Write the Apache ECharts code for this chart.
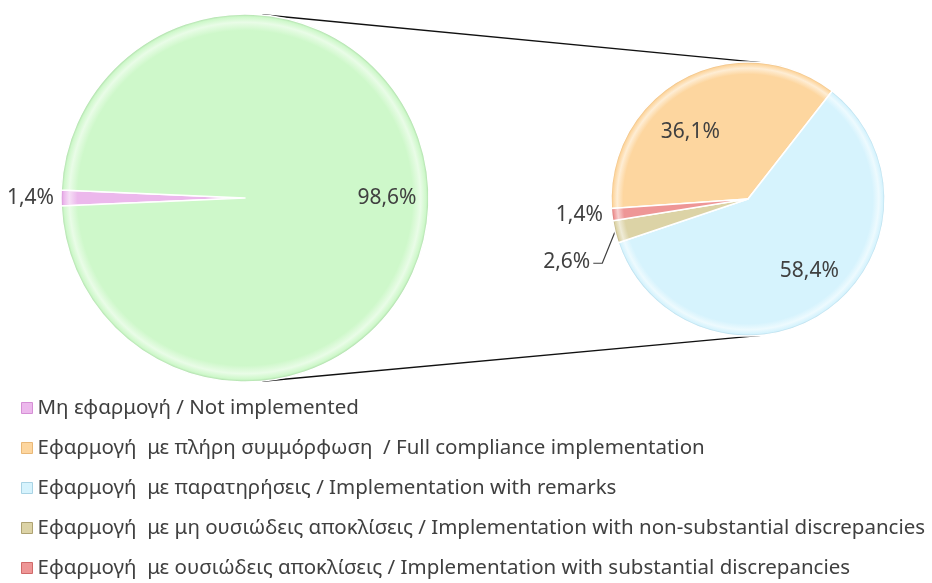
<!DOCTYPE html>
<html>
<head>
<meta charset="utf-8">
<script src="https://cdn.jsdelivr.net/npm/echarts@6/dist/echarts.min.js"></script>
<style>
  html, body { margin: 0; padding: 0; background: #fff; }
  #chart { width: 932px; height: 583px; }
</style>
</head>
<body>
<div id="chart"></div>
<script>
// data
const mainNames = ["Μη εφαρμογή / Not implemented", "Άλλο"];
const mainValues = [1.4, 98.6];
const subNames = [
  "Εφαρμογή  με πλήρη συμμόρφωση  / Full compliance implementation",
  "Εφαρμογή  με παρατηρήσεις / Implementation with remarks",
  "Εφαρμογή  με μη ουσιώδεις αποκλίσεις / Implementation with non-substantial discrepancies",
  "Εφαρμογή  με ουσιώδεις αποκλίσεις / Implementation with substantial discrepancies",
];
const subValues = [36.1, 58.4, 2.6, 1.4];
const legendNames = [mainNames[0], ...subNames];

// style: [fill, rim]
const mainColors = [["#ecb8ec", "#d58fd5"], ["#cef8ca", "#a9d9a5"]];
const subColors = [["#fdd69f", "#e9b878"], ["#d6f3fd", "#a9d3e4"], ["#dcd3a6", "#aea272"], ["#ee9696", "#d06a6a"]];
const FONT = "Noto Sans";
const MAIN = { cx: 245, cy: 198, r: 184 };
const SUB = { cx: 748, cy: 199, r: 137 };
const subStart = 184;

const fmt = (p) => p.value.toFixed(1).replace(".", ",") + "%";
const rad = (a) => (a * Math.PI) / 180;
const pt = (c, a) => [c.cx + c.r * Math.cos(rad(a)), c.cy - c.r * Math.sin(rad(a))];

// bevel-ish look: flat fill, soft light ring just inside the rim, darker rim
const fill = (c, pair) => ({
  type: "radial", x: c.cx, y: c.cy, r: c.r, global: true,
  colorStops: [
    { offset: 0, color: pair[0] },
    { offset: 0.91, color: pair[0] },
    { offset: 0.955, color: echarts.color.lerp(0.55, [pair[0], "#ffffff"]) },
    { offset: 0.985, color: pair[0] },
    { offset: 1, color: pair[1] },
  ],
});

// outer tangent lines between the two pies
const tan = 90 - (Math.asin((MAIN.r - SUB.r) / (SUB.cx - MAIN.cx)) * 180) / Math.PI;
const topA = pt(MAIN, tan), topB = pt(SUB, tan);
const botA = pt(MAIN, -tan), botB = pt(SUB, -tan);

const allColors = [mainColors[0], ...subColors];

const chart = echarts.init(document.getElementById("chart"));
chart.setOption({
  animation: false,
  textStyle: { fontFamily: FONT },
  legend: {
    data: legendNames.map((n, i) => ({
      name: n,
      itemStyle: { color: allColors[i][0], borderColor: allColors[i][1], borderWidth: 1 },
    })),
    orient: "vertical",
    left: 21,
    top: 396,
    padding: 0,
    icon: "rect",
    itemWidth: 11,
    itemHeight: 11,
    itemGap: 16,
    selectedMode: false,
    textStyle: { fontSize: 20.5, color: "#404040", lineHeight: 24, fontFamily: FONT },
  },
  graphic: [
    { type: "line", shape: { x1: topA[0], y1: topA[1], x2: topB[0], y2: topB[1] }, style: { stroke: "#111", lineWidth: 1.4 } },
    { type: "line", shape: { x1: botA[0], y1: botA[1], x2: botB[0], y2: botB[1] }, style: { stroke: "#111", lineWidth: 1.4 } },
  ],
  series: [
    {
      type: "pie",
      silent: true,
      center: [MAIN.cx, MAIN.cy],
      radius: MAIN.r,
      startAngle: 180 + (mainValues[0] / 100) * 180,
      clockwise: true,
      avoidLabelOverlap: false,
      itemStyle: { borderColor: "#fff", borderWidth: 1.5 },
      label: { formatter: fmt, fontSize: 21, color: "#404040", fontFamily: FONT },
      labelLine: { show: false, length: 4, length2: 0 },
      labelLayout: (p) => (p.dataIndex === 1 ? { dx: 47 } : { dx: 2 }),
      data: mainNames.map((n, i) => ({
        name: n,
        value: mainValues[i],
        itemStyle: { color: fill(MAIN, mainColors[i]) },
        label: { position: i === 1 ? "inside" : "outside" },
      })),
    },
    {
      type: "pie",
      silent: true,
      center: [SUB.cx, SUB.cy],
      radius: SUB.r,
      startAngle: subStart,
      clockwise: true,
      avoidLabelOverlap: false,
      itemStyle: { borderColor: "#fff", borderWidth: 1.5 },
      label: { formatter: fmt, fontSize: 21, color: "#404040", fontFamily: FONT },
      labelLine: { show: false, length: 4, length2: 0, lineStyle: { color: "#404040", width: 1.2 } },
      labelLayout: (p) => {
        if (p.dataIndex === 0) return { dx: -24, dy: -4 };
        if (p.dataIndex === 1) return { dx: 20, dy: 14 };
        if (p.dataIndex === 2) {
          const dx = -6, dy = 28;
          const r = p.labelRect;
          const right = r.x + r.width + dx + 3;
          const midY = r.y + r.height / 2 + dy + 1;
          const p0 = p.labelLinePoints ? p.labelLinePoints[0] : [right + 12, midY - 30];
          return { dx, dy, labelLinePoints: [p0, [right + 9, midY], [right, midY]] };
        }
        return {};
      },
      data: subNames.map((n, i) => ({
        name: n,
        value: subValues[i],
        itemStyle: { color: fill(SUB, subColors[i]) },
        label: { position: i < 2 ? "inside" : "outside" },
        labelLine: i === 2 ? { show: true, length: 10, length2: 4 } : { show: false },
      })),
    },
  ],
});
</script>
</body>
</html>
